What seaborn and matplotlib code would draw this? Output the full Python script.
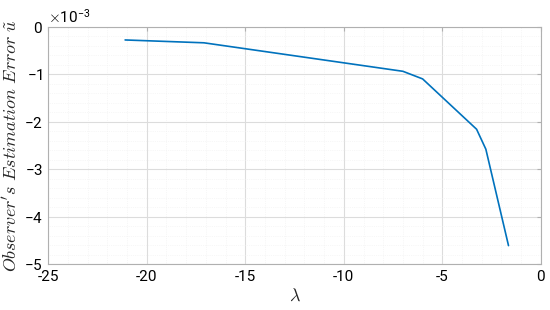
import pandas as pd
import matplotlib
matplotlib.use("Agg")
import matplotlib.pyplot as plt
import seaborn as sns
from matplotlib.ticker import ScalarFormatter, AutoMinorLocator

# Data
lam = [-21.1, -17.1, -7.0, -6.0, -3.26, -2.79, -1.64]
err = [-0.28e-3, -0.34e-3, -0.94e-3, -1.10e-3, -2.16e-3, -2.58e-3, -4.61e-3]

df = pd.DataFrame({'lambda': lam, 'err': err})

sns.set_style("whitegrid")
plt.rcParams['font.family'] = ['Roboto', 'DejaVu Sans']
plt.rcParams['mathtext.fontset'] = 'cm'
plt.rcParams['axes.unicode_minus'] = False

fig = plt.figure(figsize=(5.5, 3.1), dpi=100)
ax = fig.add_axes([0.0878, 0.148, 0.8955, 0.766])

sns.lineplot(x='lambda', y='err', data=df, color='#0072BD', linewidth=1.2, ax=ax)

ax.set_xlim(-25, 0)
ax.set_ylim(-5e-3, 0)
ax.set_xticks([-25, -20, -15, -10, -5, 0])
ax.set_yticks([-5e-3, -4e-3, -3e-3, -2e-3, -1e-3, 0])

fmt = ScalarFormatter(useMathText=True)
fmt.set_powerlimits((-2, 2))
ax.yaxis.set_major_formatter(fmt)
ax.yaxis.get_offset_text().set_fontsize(11)
ax.yaxis.get_offset_text().set_color('black')

ax.xaxis.set_minor_locator(AutoMinorLocator(5))
ax.yaxis.set_minor_locator(AutoMinorLocator(5))
ax.grid(which='major', color='#dcdcdc', linewidth=0.8)
ax.grid(which='minor', color='#f0f0f0', linewidth=0.5, linestyle=':')

for s in ax.spines.values():
    s.set_color('#b0b0b0')
    s.set_linewidth(0.8)
ax.tick_params(which='major', direction='in', length=3, color='#b0b0b0',
               labelsize=11, labelcolor='black', top=True, right=True, pad=4)
ax.tick_params(which='minor', length=0)

ax.set_xlabel(r'$\lambda$', fontsize=13, labelpad=2)
ax.set_ylabel(r"$Observer's\ Estimation\ Error\ \tilde{u}$", fontsize=13, labelpad=2)

fig.savefig('out.png', dpi=100)
